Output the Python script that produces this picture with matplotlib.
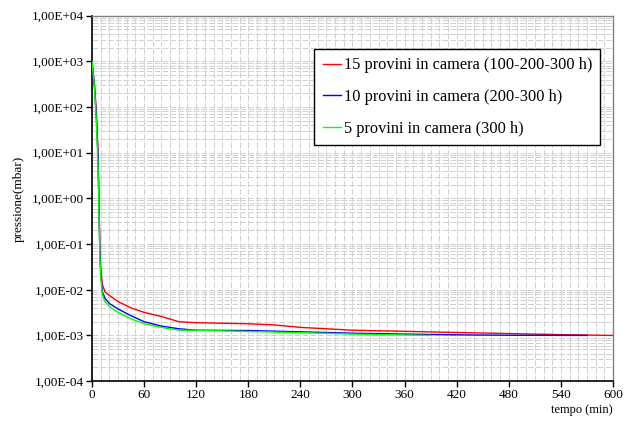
import matplotlib
matplotlib.use("Agg")
import matplotlib.pyplot as plt
from matplotlib.ticker import FixedLocator, FuncFormatter, LogLocator, MultipleLocator

# curve data (time in min, pressure in mbar)
t_red = [0, 3, 5, 7, 8, 9, 10, 12, 15, 20, 30, 45, 60, 80, 100, 120, 150, 180,
         210, 240, 270, 300, 360, 420, 480, 540, 600]
p_red = [1000, 300, 80, 10, 1, 0.1, 0.03, 0.013, 0.009, 0.0075, 0.0055, 0.004,
         0.0032, 0.0026, 0.002, 0.0019, 0.00185, 0.0018, 0.0017, 0.0015, 0.0014,
         0.0013, 0.00123, 0.00116, 0.0011, 0.00104, 0.001]

t_blue = [0, 3, 5, 7, 8, 9, 10, 12, 15, 20, 30, 45, 60, 80, 100, 120, 180, 240,
          300, 360, 420, 480, 570]
p_blue = [1000, 250, 60, 8, 0.8, 0.08, 0.025, 0.009, 0.0065, 0.005, 0.0038,
          0.0027, 0.002, 0.0016, 0.0014, 0.0013, 0.00128, 0.0012, 0.00112,
          0.00107, 0.00103, 0.00101, 0.001]

t_green = [0, 3, 5, 6, 7, 8, 9, 10, 12, 15, 20, 30, 45, 60, 80, 100, 120, 180,
           240, 300, 390]
p_green = [1000, 250, 50, 15, 5, 0.5, 0.06, 0.02, 0.0075, 0.0055, 0.0043,
           0.0032, 0.0023, 0.0018, 0.0015, 0.0013, 0.0013, 0.00122, 0.00115,
           0.00107, 0.001]

labels = ["15 provini in camera (100-200-300 h)",
          "10 provini in camera (200-300 h)",
          "5 provini in camera (300 h)"]
x_ticks = list(range(0, 601, 60))

plt.rcParams["font.family"] = ["Liberation Serif", "DejaVu Serif"]

fig = plt.figure(figsize=(6.3, 4.23), dpi=100)
ax = fig.add_axes([0.146, 0.099, 0.827, 0.864])

ax.plot(t_red, p_red, color="#ff0000", lw=1.0, label=labels[0], zorder=3)
ax.plot(t_blue, p_blue, color="#0000ff", lw=1.0, label=labels[1], zorder=3)
ax.plot(t_green, p_green, color="#00ff00", lw=1.0, label=labels[2], zorder=3)

ax.set_yscale("log")
ax.set_ylim(1e-4, 1e4)
ax.set_xlim(0, 600)

ax.xaxis.set_major_locator(FixedLocator(x_ticks))
ax.xaxis.set_minor_locator(MultipleLocator(10))
ax.yaxis.set_major_locator(LogLocator(base=10, numticks=20))
ax.yaxis.set_minor_locator(LogLocator(base=10, subs=range(2, 10), numticks=20))


def sci_fmt(v, pos):
    s = "%.2E" % v
    return s.replace(".", ",")


ax.yaxis.set_major_formatter(FuncFormatter(sci_fmt))
ax.yaxis.set_minor_formatter(FuncFormatter(lambda v, p: ""))

ax.tick_params(axis="both", which="major", direction="out", length=4,
               width=1, labelsize=9.5, pad=2)
ax.tick_params(axis="both", which="minor", length=0)

grid_kw = dict(color="#d0d0d0", lw=0.7, linestyle=(0, (6, 2)))
ax.grid(True, which="both", axis="both", **grid_kw)
ax.set_axisbelow(True)

for side in ["left", "bottom"]:
    ax.spines[side].set_color("black")
    ax.spines[side].set_linewidth(1.2)
for side in ["top", "right"]:
    ax.spines[side].set_color("#808080")
    ax.spines[side].set_linewidth(1.0)

ax.set_ylabel("pressione(mbar)", fontsize=9.5, labelpad=5)
ax.text(1.0, -0.062, "tempo (min)", transform=ax.transAxes, ha="right",
        va="top", fontsize=9)

leg = ax.legend(loc="upper right", bbox_to_anchor=(0.976, 0.908),
                fontsize=11.8, frameon=True, fancybox=False, handlelength=1.1,
                handletextpad=0.2, labelspacing=0.95, borderpad=0.5,
                borderaxespad=0)
leg.get_frame().set_edgecolor("black")
leg.get_frame().set_linewidth(1.0)
leg.get_frame().set_alpha(1)

fig.savefig("out.png", dpi=100)
